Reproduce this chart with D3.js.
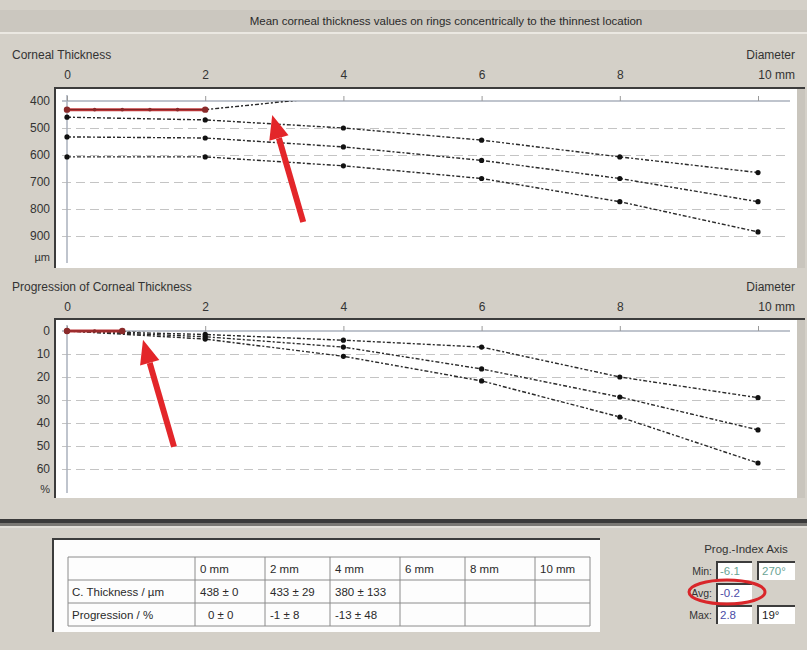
<!DOCTYPE html>
<meta charset="utf-8">
<html>
<head>
<style>
  body { margin: 0; background: #d4d0c8; }
  svg { display: block; font-family: "Liberation Sans", Arial, sans-serif; }
  .domain { display: none; }
  .lbl text { fill: #333; font-size: 12px; }
</style>
<script src="https://d3js.org/d3.v7.min.js"></script>
</head>
<body>
<svg width="807" height="650"></svg>
<script>

// ring diameters (mm) and the three reference curves
var diameters = [0, 2, 4, 6, 8, 10];
var thkLow  = [460, 470, 500, 545, 607, 665];
var thkMid  = [533, 537, 570, 620, 687, 773];
var thkHigh = [607, 607, 640, 687, 773, 885];

// patient curve (red part + dashed continuation)
var thkPatD   = [0, 0.4, 0.8, 1.2, 1.6, 2];
var thkPat    = [432, 432, 432, 432, 432, 432];
var thkExtD   = [2, 4];
var thkExt    = [432, 380];

var progLow  = [0, 1.5, 4, 7, 20, 29];
var progMid  = [0, 2.5, 7, 16.5, 28.7, 43];
var progHigh = [0, 3.5, 11, 21.7, 37.4, 57.4];

var progPatD = [0, 0.4, 0.8];
var progPat  = [0, 0, 0];
var progExtD = [0.8, 2, 4];
var progExt  = [0, -1, -13];

var thkTicks  = [400, 500, 600, 700, 800, 900];
var progTicks = [0, 10, 20, 30, 40, 50, 60];
var xLabels   = [0, 2, 4, 6, 8];

// table
var tableHead = ["", "0 mm", "2 mm", "4 mm", "6 mm", "8 mm", "10 mm"];
var thkRow    = ["C. Thickness / \u00b5m", "438 \u00b1 0", "433 \u00b1 29", "380 \u00b1 133", "", "", ""];
var progRow   = ["Progression / %", "0 \u00b1 0", "-1 \u00b1 8", "-13 \u00b1 48", "", "", ""];
var colEdges  = [68, 195, 265, 330, 400, 465, 535, 590];

// Prog.-Index Axis box
var piLabels = ["Min:", "Avg:", "Max:"];
var piValues = ["-6.1", "-0.2", "2.8"];
var piAxis   = ["270\u00b0", "", "19\u00b0"];
var piColors = ["#6aa394", "#4b4ba6", "#4b4ba6"];

var svg = d3.select("svg"),
    width = +svg.attr("width"),
    height = +svg.attr("height");

var x = d3.scaleLinear().domain([0, 10]).range([67, 758]);

function zip(a, b) { return a.map(function(d, i) { return [d, b[i]]; }); }

// background bits
svg.append("rect").attr("width", width).attr("height", height).attr("fill", "#d4d0c8");
svg.append("rect").attr("x", 0).attr("y", 10).attr("width", width).attr("height", 22).attr("fill", "#cbc7bf");
svg.append("line").attr("x1", 0).attr("x2", width).attr("y1", 33).attr("y2", 33).attr("stroke", "#ebe8e2").attr("stroke-width", 2);
svg.append("text").attr("x", 446).attr("y", 25).attr("text-anchor", "middle")
    .attr("font-size", 11.5).attr("fill", "#2a2a2a")
    .text("Mean corneal thickness values on rings concentrically to the thinnest location");

function panel(cfg) {
  var y = d3.scaleLinear().domain(cfg.domain).range(cfg.range);
  var g = svg.append("g");
  var y0 = y(cfg.domain[0]);

  g.append("rect").attr("x", 55).attr("y", cfg.top).attr("width", 742).attr("height", cfg.bottom - cfg.top).attr("fill", "#fff");
  g.append("rect").attr("x", 797).attr("y", cfg.top).attr("width", 8).attr("height", cfg.bottom - cfg.top).attr("fill", "#c9c5bd");
  g.append("path").attr("d", "M55," + cfg.bottom + "V" + cfg.top + "H805")
      .attr("fill", "none").attr("stroke", "#3c3c3c").attr("stroke-width", 2);

  // titles
  g.append("text").attr("x", 12).attr("y", cfg.titleY).attr("font-size", 12).attr("fill", "#333").text(cfg.title);
  g.append("text").attr("x", 795).attr("y", cfg.titleY).attr("text-anchor", "end").attr("font-size", 12).attr("fill", "#333").text("Diameter");
  g.append("text").attr("x", 795).attr("y", cfg.titleY + 20).attr("text-anchor", "end").attr("font-size", 12).attr("fill", "#333").text("10 mm");

  g.append("g").attr("class", "lbl")
      .attr("transform", "translate(0," + (cfg.titleY + 20) + ")")
      .call(d3.axisTop(x).tickValues(xLabels).tickSize(0).tickPadding(0).tickFormat(d3.format("d")))
      .selectAll("text").attr("dy", 0);

  // gridlines
  g.append("g")
      .attr("transform", "translate(62,0)")
      .call(d3.axisLeft(y).tickValues(cfg.ticks.slice(1)).tickSize(-723).tickFormat(""))
      .selectAll("line").attr("stroke", "#c4c4c4").attr("stroke-dasharray", "9,5");

  // axis lines
  g.append("line").attr("x1", 62).attr("x2", 790).attr("y1", y0).attr("y2", y0).attr("stroke", "#aab0bc").attr("stroke-width", 1.5);
  g.append("line").attr("x1", 67).attr("x2", 67).attr("y1", y0 - 6).attr("y2", cfg.bottom - 5).attr("stroke", "#aab0bc").attr("stroke-width", 1.5);
  g.append("g").attr("transform", "translate(0," + y0 + ")")
      .call(d3.axisTop(x).tickValues(diameters).tickSize(5).tickFormat(""))
      .selectAll("line").attr("stroke", "#999");

  // y labels
  g.append("g").attr("class", "lbl")
      .attr("transform", "translate(50,0)")
      .call(d3.axisLeft(y).tickValues(cfg.ticks).tickSize(0).tickPadding(0).tickFormat(d3.format("d")));
  g.append("text").attr("x", 50).attr("y", cfg.unitY).attr("text-anchor", "end").attr("font-size", 11).attr("fill", "#333").text(cfg.unit);

  var line = d3.line().x(function(d) { return x(d[0]); }).y(function(d) { return y(d[1]); });

  var clipId = "clip" + cfg.top;
  svg.append("clipPath").attr("id", clipId).append("rect")
      .attr("x", 55).attr("y", y0).attr("width", 742).attr("height", cfg.bottom - y0);

  g.append("path").datum(zip(cfg.extD, cfg.ext)).attr("d", line)
      .attr("clip-path", "url(#" + clipId + ")")
      .attr("fill", "none").attr("stroke", "#2a2a2a").attr("stroke-width", 1.4).attr("stroke-dasharray", "4,2,2,2");

  cfg.series.forEach(function(s) {
    var pts = zip(diameters, s);
    g.append("path").datum(pts).attr("d", line)
        .attr("fill", "none").attr("stroke", "#2a2a2a").attr("stroke-width", 1.4).attr("stroke-dasharray", "4,2,2,2");
    g.selectAll(null).data(pts).enter().append("circle")
        .attr("cx", function(d) { return x(d[0]); })
        .attr("cy", function(d) { return y(d[1]); })
        .attr("r", 2.6).attr("fill", "#111");
  });

  var pat = zip(cfg.patD, cfg.pat);
  g.append("path").datum(pat).attr("d", line)
      .attr("fill", "none").attr("stroke", "#c0393b").attr("stroke-width", 3);
  g.append("path").datum(pat).attr("d", line)
      .attr("fill", "none").attr("stroke", "#7a2222").attr("stroke-width", 1);
  g.selectAll(null).data(pat).enter().append("circle")
      .attr("cx", function(d) { return x(d[0]); })
      .attr("cy", function(d) { return y(d[1]); })
      .attr("r", function(d, i) { return i === pat.length - 1 || i === 0 ? 3.2 : 1.8; })
      .attr("fill", "#8a2a2a");

  // red annotation arrow
  var tip = [x(cfg.arrow[0]), y(cfg.arrow[1])];
  var tail = [tip[0] + 31, tip[1] + 107];
  var ang = Math.atan2(tail[1] - tip[1], tail[0] - tip[0]);
  var hl = 24, hw = 10;
  var bx = tip[0] + hl * Math.cos(ang), by = tip[1] + hl * Math.sin(ang);
  var px = -Math.sin(ang), py = Math.cos(ang);
  g.append("line").attr("x1", bx).attr("y1", by).attr("x2", tail[0]).attr("y2", tail[1])
      .attr("stroke", "#e3262a").attr("stroke-width", 6);
  g.append("path")
      .attr("d", "M" + tip + "L" + [bx + px * hw, by + py * hw] + "L" + [bx - px * hw, by - py * hw] + "Z")
      .attr("fill", "#e3262a");
}

panel({
  top: 88, bottom: 268, titleY: 59,
  domain: [400, 900], range: [101, 236], ticks: thkTicks,
  title: "Corneal Thickness", unit: "\u00b5m", unitY: 261,
  series: [thkLow, thkMid, thkHigh],
  patD: thkPatD, pat: thkPat, extD: thkExtD, ext: thkExt,
  arrow: [2.97, 452]
});

panel({
  top: 319, bottom: 498, titleY: 291,
  domain: [0, 60], range: [331, 469], ticks: progTicks,
  title: "Progression of Corneal Thickness", unit: "%", unitY: 493,
  series: [progLow, progMid, progHigh],
  patD: progPatD, pat: progPat, extD: progExtD, ext: progExt,
  arrow: [1.1, 3.8]
});

// separator bar
svg.append("rect").attr("x", 0).attr("y", 519).attr("width", width).attr("height", 4).attr("fill", "#3a3a3a");
svg.append("rect").attr("x", 0).attr("y", 523).attr("width", width).attr("height", 3).attr("fill", "#7a7874");
svg.append("line").attr("x1", 0).attr("x2", width).attr("y1", 527).attr("y2", 527).attr("stroke", "#f0eee9");

// table frame
var tg = svg.append("g");
tg.append("rect").attr("x", 52).attr("y", 538).attr("width", 548).attr("height", 94).attr("fill", "#fdfdfd");
tg.append("path").attr("d", "M53,632V539H600").attr("fill", "none").attr("stroke", "#3c3c3c").attr("stroke-width", 2);

var rowEdges = [557, 580, 603, 626];
var rows = [tableHead, thkRow, progRow];
rowEdges.forEach(function(yy) {
  tg.append("line").attr("x1", colEdges[0]).attr("x2", colEdges[colEdges.length - 1]).attr("y1", yy).attr("y2", yy)
      .attr("stroke", "#8c8c8c");
});
colEdges.forEach(function(xx) {
  tg.append("line").attr("x1", xx).attr("x2", xx).attr("y1", rowEdges[0]).attr("y2", rowEdges[3])
      .attr("stroke", "#8c8c8c");
});
rows.forEach(function(r, ri) {
  r.forEach(function(t, ci) {
    if (!t) return;
    var cx = ci === 0 ? colEdges[0] + 4 : colEdges[ci] + 5;
    if (ri === 2 && ci === 1) cx = colEdges[ci] + 13;
    tg.append("text").attr("x", cx).attr("y", rowEdges[ri] + 16)
        .attr("font-size", 11.5).attr("fill", "#2a2a2a").text(t);
  });
});

// Prog.-Index Axis
var pg = svg.append("g");
pg.append("text").attr("x", 746).attr("y", 553).attr("text-anchor", "middle")
    .attr("font-size", 11.5).attr("fill", "#333").text("Prog.-Index Axis");
piLabels.forEach(function(l, i) {
  var yy = 561 + i * 22;
  pg.append("text").attr("x", 712).attr("y", yy + 14).attr("text-anchor", "end")
      .attr("font-size", 10.5).attr("fill", "#333").text(l);
  pg.append("rect").attr("x", 716).attr("y", yy).attr("width", 36).attr("height", 19).attr("fill", "#fff");
  pg.append("path").attr("d", "M717," + (yy + 19) + "V" + (yy + 1) + "H752").attr("fill", "none").attr("stroke", "#3c3c3c").attr("stroke-width", 2);
  pg.append("text").attr("x", 720).attr("y", yy + 14).attr("font-size", 11.5).attr("fill", piColors[i]).text(piValues[i]);
  if (piAxis[i]) {
    pg.append("rect").attr("x", 757).attr("y", yy).attr("width", 38).attr("height", 19).attr("fill", "#fff");
    pg.append("path").attr("d", "M758," + (yy + 19) + "V" + (yy + 1) + "H795").attr("fill", "none").attr("stroke", "#3c3c3c").attr("stroke-width", 2);
    pg.append("text").attr("x", 762).attr("y", yy + 14).attr("font-size", 11.5)
        .attr("fill", i === 0 ? piColors[0] : "#222").text(piAxis[i]);
  }
});
pg.append("ellipse").attr("cx", 727).attr("cy", 592).attr("rx", 38).attr("ry", 12)
    .attr("fill", "none").attr("stroke", "#d9262a").attr("stroke-width", 3);

</script>
</body>
</html>
